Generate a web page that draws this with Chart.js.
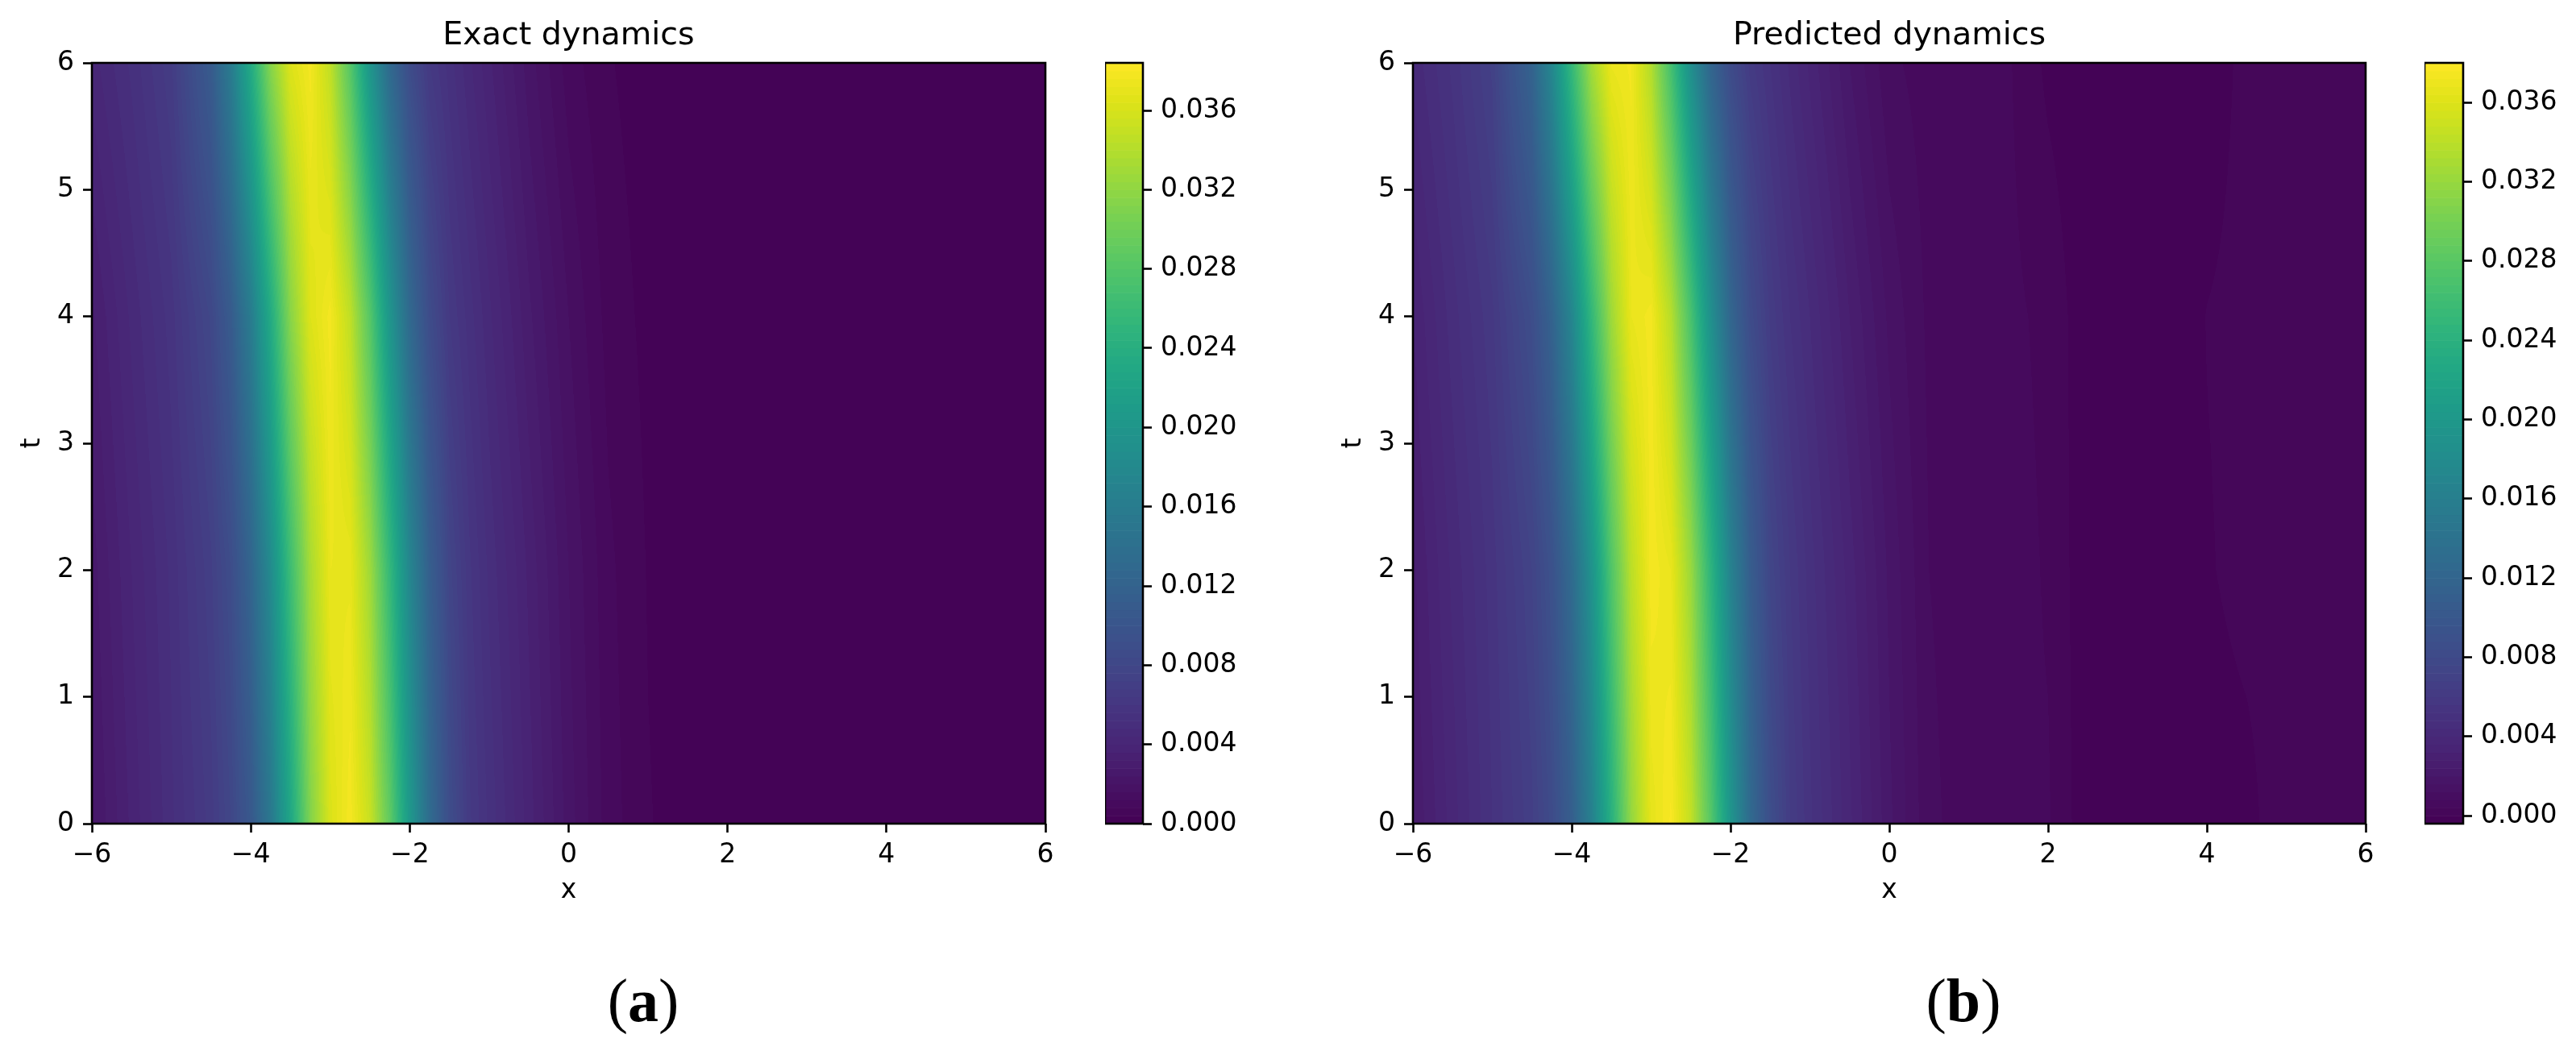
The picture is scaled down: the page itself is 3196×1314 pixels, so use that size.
<!DOCTYPE html>
<html>
<head>
<meta charset="utf-8">
<script src="https://cdn.jsdelivr.net/npm/chart.js@4.4.1/dist/chart.umd.min.js"></script>
<style>
  body { margin: 0; background: #fff; width: 3196px; height: 1314px; position: relative; overflow: hidden; }
  canvas { position: absolute; top: 0; }
  .cap { position: absolute; top: 1203px; font: 76px 'Liberation Serif', serif; line-height: 76px; transform: translateX(-50%); white-space: nowrap; color: #000; }
</style>
</head>
<body>
<canvas id="exact" width="1327" height="1125" style="left:0px"></canvas>
<canvas id="exactBar" width="200" height="1060" style="left:1371px"></canvas>
<canvas id="pred" width="1326" height="1125" style="left:1639px"></canvas>
<canvas id="predBar" width="188" height="1060" style="left:3008px"></canvas>
<div class="cap" style="left:798px">(<b>a</b>)</div>
<div class="cap" style="left:2436px">(<b>b</b>)</div>
<script>
// grid the field was read on
const xGrid = [-6, -5.5, -5, -4.5, -4.25, -4, -3.75, -3.5, -3.25, -3, -2.75, -2.5, -2.25, -2, -1.75, -1.5, -1.25, -1,
               -0.5, 0, 0.5, 1, 1.5, 2, 2.5, 3, 3.5, 4, 4.5, 5, 5.5, 6];
const tGrid = [0, 2, 4, 6];

// exact dynamics, one row per t
const exactT0 = [0.0023, 0.0037, 0.0051, 0.0066, 0.0080, 0.0105, 0.0153, 0.0227, 0.0311, 0.0362, 0.0379, 0.0352, 0.0289, 0.0205, 0.0134, 0.0089, 0.0065, 0.0055,
                 0.0038, 0.0022, 0.0010, 0.00043, 0.0002, 0.00006, 0.00002, 0, 0, 0, 0, 0, 0, 0];
const exactT2 = [0.0026, 0.0040, 0.0053, 0.0071, 0.0088, 0.0123, 0.0182, 0.0263, 0.0333, 0.0372, 0.0371, 0.0329, 0.0255, 0.0175, 0.0115, 0.0078, 0.0061, 0.0051,
                 0.0035, 0.0020, 0.0009, 0.00037, 0.00014, 0.00004, 0, 0, 0, 0, 0, 0, 0, 0];
const exactT4 = [0.0031, 0.0045, 0.0058, 0.0081, 0.0109, 0.0159, 0.0234, 0.0315, 0.0364, 0.0378, 0.0347, 0.0282, 0.0199, 0.0130, 0.0087, 0.0064, 0.0054, 0.0045,
                 0.0029, 0.0016, 0.00064, 0.00028, 0.00009, 0.00002, 0, 0, 0, 0, 0, 0, 0, 0];
const exactT6 = [0.0042, 0.0053, 0.0067, 0.0109, 0.0159, 0.0234, 0.0315, 0.0364, 0.0378, 0.0347, 0.0282, 0.0199, 0.0130, 0.0087, 0.0064, 0.0054, 0.0045, 0.0037,
                 0.0022, 0.0010, 0.00044, 0.00018, 0.00005, 0, 0, 0, 0, 0, 0, 0, 0, 0];

// predicted dynamics
const predT0 = [0.0024, 0.0038, 0.0052, 0.0067, 0.0082, 0.0110, 0.0162, 0.0238, 0.0318, 0.0365, 0.0377, 0.0345, 0.0279, 0.0196, 0.0128, 0.0086, 0.0064, 0.0053,
                0.0037, 0.0021, 0.0009, 0.0006, 0.0005, 0.00045, -0.0003, -0.0003, -0.0002, -0.00015, -0.0001, 0.0002, 0.0002, 0.0001];
const predT2 = [0.0027, 0.0041, 0.0054, 0.0072, 0.0091, 0.0128, 0.0190, 0.0274, 0.0340, 0.0375, 0.0368, 0.0322, 0.0245, 0.0166, 0.0109, 0.0075, 0.0060, 0.0050,
                0.0034, 0.0019, 0.0008, 0.0006, 0.0006, 0.00035, -0.0003, -0.0003, -0.0002, -0.00003, 0.0001, 0.0001, 0.0001, 0.0001];
const predT4 = [0.0032, 0.0046, 0.0059, 0.0085, 0.0116, 0.0170, 0.0249, 0.0324, 0.0368, 0.0374, 0.0338, 0.0269, 0.0187, 0.0122, 0.0083, 0.0063, 0.0052, 0.0044,
                0.0028, 0.0015, 0.0007, 0.0006, 0.0005, 0.0003, -0.0003, -0.0003, -0.00025, 0.00001, 0.0001, 0.0001, 0.0001, 0.0001];
const predT6 = [0.0041, 0.0053, 0.0069, 0.0117, 0.0173, 0.0252, 0.0327, 0.0369, 0.0373, 0.0335, 0.0265, 0.0184, 0.0120, 0.0082, 0.0062, 0.0052, 0.0043, 0.0035,
                0.0020, 0.0009, 0.0006, 0.0005, 0.00045, -0.0001, -0.0003, -0.0003, -0.0003, -0.0002, 0.0001, 0.0001, 0.0001, 0.0001];

// contour levels and ticks
const levelStep = 0.0004;
const exactRange = [0, 0.0384];
const predRange = [-0.0004, 0.0380];
const xTicks = [-6, -4, -2, 0, 2, 4, 6];
const tTicks = [0, 1, 2, 3, 4, 5, 6];
const cbarTicks = [0, 0.004, 0.008, 0.012, 0.016, 0.020, 0.024, 0.028, 0.032, 0.036];

Chart.defaults.font.family = "'DejaVu Sans', sans-serif";
Chart.defaults.color = '#000';

const viridisStops = ['#440154', '#471365', '#482475', '#463480', '#414487', '#3b528b', '#355f8d', '#2f6c8e', '#2a788e', '#25848e', '#21918c',
                      '#1e9c89', '#22a884', '#2fb47c', '#44bf70', '#5ec962', '#7ad151', '#9bd93c', '#bddf26', '#dfe318', '#fde725'];
const stopRgb = viridisStops.map(h => [1, 3, 5].map(i => parseInt(h.substr(i, 2), 16)));

function viridis(f) {
  f = Math.min(1, Math.max(0, f)) * (stopRgb.length - 1);
  const i = Math.min(Math.floor(f), stopRgb.length - 2), u = f - i;
  return stopRgb[i].map((c, k) => Math.round(c + (stopRgb[i + 1][k] - c) * u));
}

function bandPalette(range) {
  const nb = Math.round((range[1] - range[0]) / levelStep);
  const pal = [];
  for (let b = 0; b < nb; b++) pal.push(viridis((b + 0.5) / nb));
  return pal;
}

function makeHeatmap(rows, range) {
  const pal = bandPalette(range);
  return {
    id: 'heatmap',
    beforeDatasetsDraw(chart) {
      const {ctx, chartArea: a, scales: {x, y}} = chart;
      const w = Math.round(a.right - a.left), h = Math.round(a.bottom - a.top);
      const off = document.createElement('canvas');
      off.width = w; off.height = h;
      const octx = off.getContext('2d');
      const img = octx.createImageData(w, h);
      const ci = new Int32Array(w), cf = new Float64Array(w);
      for (let i = 0; i < w; i++) {
        const v = x.getValueForPixel(a.left + i + 0.5);
        let k = 0;
        while (k < xGrid.length - 2 && xGrid[k + 1] < v) k++;
        ci[i] = k;
        cf[i] = Math.min(1, Math.max(0, (v - xGrid[k]) / (xGrid[k + 1] - xGrid[k])));
      }
      for (let j = 0; j < h; j++) {
        const t = y.getValueForPixel(a.top + j + 0.5);
        let r = 0;
        while (r < tGrid.length - 2 && tGrid[r + 1] < t) r++;
        const ft = Math.min(1, Math.max(0, (t - tGrid[r]) / (tGrid[r + 1] - tGrid[r])));
        const r0 = rows[r], r1 = rows[r + 1];
        for (let i = 0; i < w; i++) {
          const k = ci[i], f = cf[i];
          const v0 = r0[k] + (r0[k + 1] - r0[k]) * f;
          const v1 = r1[k] + (r1[k + 1] - r1[k]) * f;
          const v = v0 + (v1 - v0) * ft;
          let b = Math.floor((v - range[0]) / levelStep + 1e-9);
          b = Math.max(0, Math.min(pal.length - 1, b));
          const c = pal[b], p = (j * w + i) * 4;
          img.data[p] = c[0]; img.data[p + 1] = c[1]; img.data[p + 2] = c[2]; img.data[p + 3] = 255;
        }
      }
      octx.putImageData(img, 0, 0);
      ctx.drawImage(off, a.left, a.top);
    }
  };
}

function makeColorbar(range) {
  const pal = bandPalette(range);
  return {
    id: 'colorbar',
    beforeDatasetsDraw(chart) {
      const {ctx, chartArea: a, scales: {y}} = chart;
      pal.forEach((c, b) => {
        const y0 = y.getPixelForValue(range[0] + b * levelStep);
        const y1 = y.getPixelForValue(range[0] + (b + 1) * levelStep);
        ctx.fillStyle = 'rgb(' + c.join(',') + ')';
        ctx.fillRect(a.left, y1, a.right - a.left, y0 - y1 + 0.6);
      });
    }
  };
}

const frame = {
  id: 'frame',
  afterDatasetsDraw(chart) {
    const {ctx, chartArea: a} = chart;
    ctx.save();
    ctx.strokeStyle = '#000';
    ctx.lineWidth = 2.6;
    ctx.strokeRect(a.left, a.top, a.right - a.left, a.bottom - a.top);
    ctx.restore();
  }
};

const tickGrid = { drawOnChartArea: false, drawTicks: true, tickLength: 11, tickWidth: 2.6, tickColor: '#000' };
const fmtNum = v => (v < 0 ? '\u2212' + Math.abs(v) : String(v));

function heatmapChart(id, title, rows, range) {
  return new Chart(document.getElementById(id), {
    type: 'scatter',
    data: { datasets: [] },
    options: {
      responsive: false,
      animation: false,
      events: [],
      layout: { padding: { top: 0, right: 30, bottom: 0, left: 0 } },
      plugins: {
        legend: { display: false },
        tooltip: { enabled: false },
        title: { display: true, text: title, fullSize: false, color: '#000', font: { size: 39.6, weight: 'normal' }, padding: { top: 21.4, bottom: 9.1 } }
      },
      scales: {
        x: {
          type: 'linear', min: -6, max: 6,
          afterFit: s => { s.height = 103; },
          afterBuildTicks: s => { s.ticks = xTicks.map(v => ({ value: v })); },
          grid: tickGrid,
          border: { display: false },
          ticks: { padding: 9, font: { size: 33 }, maxRotation: 0, autoSkip: false, callback: fmtNum },
          title: { display: true, text: 'x', font: { size: 33 }, padding: { top: 0, bottom: 0 } }
        },
        y: {
          type: 'linear', min: 0, max: 6,
          afterFit: s => { s.width = 114; },
          afterBuildTicks: s => { s.ticks = tTicks.map(v => ({ value: v })); },
          grid: tickGrid,
          border: { display: false },
          ticks: { padding: 11, font: { size: 33 }, autoSkip: false, callback: fmtNum },
          title: { display: true, text: 't', font: { size: 33 }, padding: { top: 21, bottom: 0 } }
        }
      }
    },
    plugins: [makeHeatmap(rows, range), frame]
  });
}

function colorbarChart(id, range, axisWidth) {
  return new Chart(document.getElementById(id), {
    type: 'scatter',
    data: { datasets: [] },
    options: {
      responsive: false,
      animation: false,
      events: [],
      layout: { padding: { top: 78, right: 0, bottom: 38, left: 0 } },
      plugins: { legend: { display: false }, tooltip: { enabled: false } },
      scales: {
        x: { type: 'linear', display: false, min: 0, max: 1 },
        y: {
          type: 'linear', position: 'right', min: range[0], max: range[1],
          afterFit: s => { s.width = axisWidth; },
          afterBuildTicks: s => { s.ticks = cbarTicks.map(v => ({ value: v })); },
          grid: tickGrid,
          border: { display: false },
          ticks: { padding: 11, font: { size: 33 }, autoSkip: false, callback: v => v.toFixed(3) }
        }
      }
    },
    plugins: [makeColorbar(range), frame]
  });
}

heatmapChart('exact', 'Exact dynamics', [exactT0, exactT2, exactT4, exactT6], exactRange);
colorbarChart('exactBar', exactRange, 153);
heatmapChart('pred', 'Predicted dynamics', [predT0, predT2, predT4, predT6], predRange);
colorbarChart('predBar', predRange, 140);
</script>
</body>
</html>
